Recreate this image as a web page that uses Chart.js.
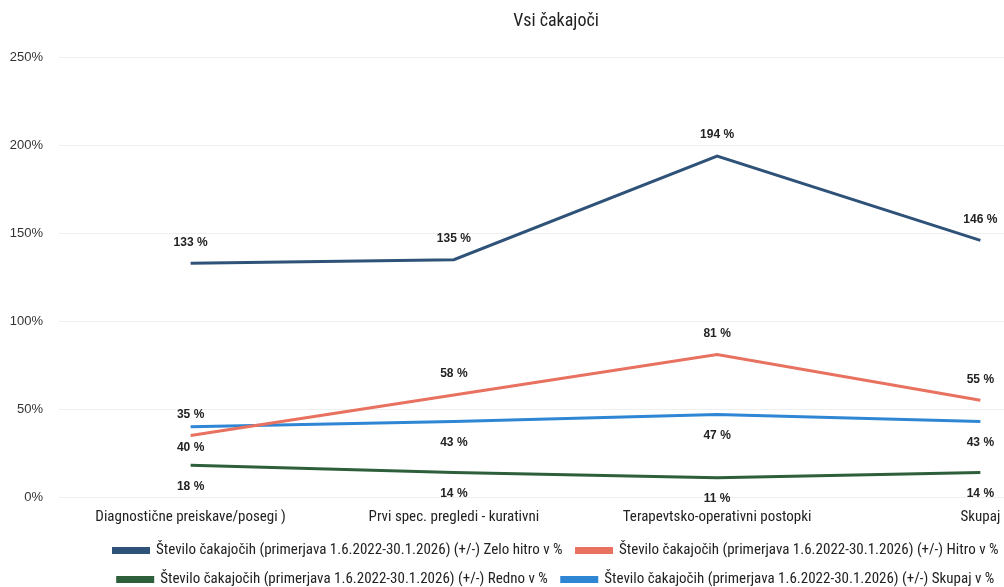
<!DOCTYPE html>
<html><head><meta charset="utf-8">
<script src="https://cdn.jsdelivr.net/npm/chart.js@4.4.1/dist/chart.umd.min.js"></script>
<style>
html,body{margin:0;padding:0;background:#fff;overflow:hidden;width:1004px;height:587px}
#wrap{position:relative;width:1120px;height:587px;overflow:hidden}
</style></head>
<body><div id="wrap"><canvas id="c" width="1120" height="597"></canvas></div>
<script>
const categories = ["Diagnostične preiskave/posegi )", "Prvi spec. pregledi - kurativni", "Terapevtsko-operativni postopki", "Skupaj"];
const zeloHitro = [133, 135, 194, 146];
const hitro = [35, 58, 81, 55];
const redno = [18, 14, 11, 14];
const skupaj = [40, 43, 47, 43];
const yTicks = [0, 50, 100, 150, 200, 250];
const seriesNames = [
  "Število čakajočih (primerjava 1.6.2022-30.1.2026) (+/-) Zelo hitro v %",
  "Število čakajočih (primerjava 1.6.2022-30.1.2026) (+/-) Hitro v %",
  "Število čakajočih (primerjava 1.6.2022-30.1.2026) (+/-) Redno v %",
  "Število čakajočih (primerjava 1.6.2022-30.1.2026) (+/-) Skupaj v %"
];
const title = "Vsi čakajoči";

const NARROW = "'Liberation Sans Narrow', 'Roboto Condensed', 'Liberation Sans', sans-serif";
const WIDE = "'Liberation Sans', Arial, sans-serif";

const valueLabels = {
  id: 'valueLabels',
  afterDatasetsDraw(chart) {
    const ctx = chart.ctx;
    ctx.save();
    ctx.font = "bold 12px " + WIDE;
    ctx.fillStyle = "#222";
    ctx.textAlign = "center";
    ctx.textBaseline = "middle";
    chart.data.datasets.forEach((ds, i) => {
      const meta = chart.getDatasetMeta(i);
      meta.data.forEach((pt, j) => {
        const off = ds.labelPos === 'above' ? -21 : 21;
        ctx.fillText(ds.data[j] + " %", pt.x, pt.y + off);
      });
    });
    ctx.restore();
  }
};

const colors = ["#2f5279", "#e8715f", "#2d5f3b", "#2e86d4"];
const seriesData = [zeloHitro, hitro, redno, skupaj];
const positions = ['above', 'above', 'below', 'below'];

new Chart(document.getElementById('c'), {
  type: 'line',
  data: {
    labels: categories,
    datasets: seriesData.map((d, i) => ({
      label: seriesNames[i],
      data: d,
      borderColor: colors[i],
      backgroundColor: colors[i],
      borderWidth: 3,
      pointRadius: 0,
      tension: 0,
      labelPos: positions[i]
    }))
  },
  options: {
    responsive: false,
    animation: false,
    layout: { padding: { left: 0, right: 8, top: 0, bottom: 0 } },
    plugins: {
      title: {
        display: true, text: title, color: "#222",
        font: { family: NARROW, size: 18, weight: 'normal' },
        padding: { top: 11, bottom: 25 }
      },
      legend: {
        position: 'bottom',
        labels: {
          boxWidth: 35, boxHeight: 4, color: "#222",
          font: { family: NARROW, size: 15 },
          padding: 14
        }
      },
      tooltip: { enabled: false }
    },
    scales: {
      x: {
        offset: true,
        grid: { display: false },
        border: { display: false },
        ticks: { color: "#222", font: { family: NARROW, size: 15 }, maxRotation: 0, padding: 3 }
      },
      y: {
        min: 0, max: 250,
        afterBuildTicks: (ax) => { ax.ticks = yTicks.map(v => ({ value: v })); },
        afterFit: (ax) => { ax.width = 59; },
        grid: { color: "#efefef", drawTicks: false },
        border: { display: false },
        ticks: { color: "#333", font: { family: WIDE, size: 13 }, padding: 16, callback: v => v + "%" }
      }
    }
  },
  plugins: [valueLabels]
});
</script>
</body></html>
